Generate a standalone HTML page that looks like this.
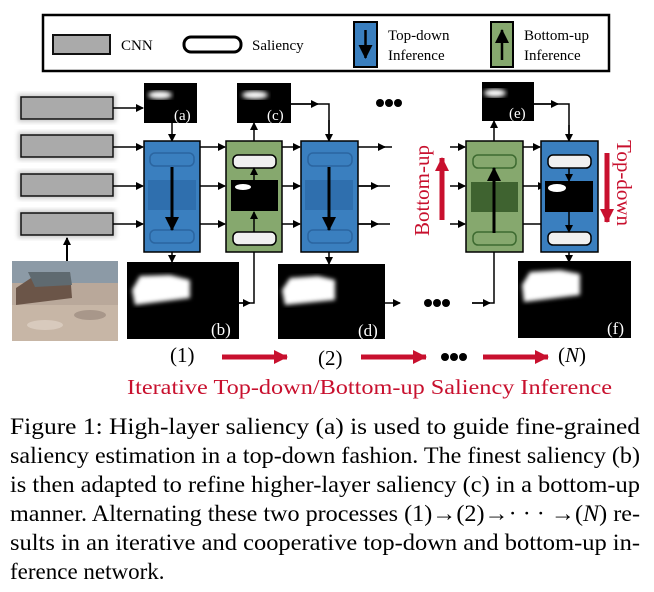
<!DOCTYPE html>
<html><head><meta charset="utf-8"><style>
html,body{margin:0;padding:0;background:#fff;width:654px;height:592px;overflow:hidden}
svg{display:block}
text{font-family:"Liberation Serif",serif}
</style></head><body>
<svg width="654" height="592" viewBox="0 0 654 592" xmlns="http://www.w3.org/2000/svg">
<defs>
<marker id="ar" markerWidth="8" markerHeight="8" refX="7" refY="4" orient="auto" markerUnits="userSpaceOnUse"><path d="M0,0 L8,4 L0,8 z" fill="#000"/></marker>
<marker id="rr" markerWidth="14" markerHeight="14" refX="13" refY="7" orient="auto" markerUnits="userSpaceOnUse"><path d="M0,0 L14,7 L0,14 z" fill="#c8102e"/></marker>
<marker id="bk" markerWidth="14" markerHeight="14" refX="13" refY="7" orient="auto" markerUnits="userSpaceOnUse"><path d="M0,0 L14,7 L0,14 z" fill="#000"/></marker>
<filter id="sh"><feGaussianBlur stdDeviation="2"/></filter>
<filter id="bl"><feGaussianBlur stdDeviation="2.5"/></filter>
</defs>

<rect x="43" y="15" width="566" height="56" fill="#fff" stroke="#000" stroke-width="2.5"/>
<rect x="53" y="35" width="57" height="19" fill="#aaa" stroke="#111" stroke-width="2"/>
<text x="121" y="50" font-size="15">CNN</text>
<rect x="184" y="37" width="57" height="15" rx="7" fill="#fff" stroke="#000" stroke-width="3"/>
<text x="252" y="50" font-size="15">Saliency</text>
<rect x="354" y="22" width="23" height="45" fill="#3a7fbf" stroke="#000" stroke-width="2"/>
<line x1="365.5" y1="30" x2="365.5" y2="58" stroke="#000" stroke-width="2.5" marker-end="url(#bk)"/>
<text x="388" y="40" font-size="15">Top-down</text>
<text x="388" y="60" font-size="15">Inference</text>
<rect x="491" y="22" width="22" height="45" fill="#86a86e" stroke="#000" stroke-width="2"/>
<line x1="502" y1="60" x2="502" y2="30" stroke="#000" stroke-width="2.5" marker-end="url(#bk)"/>
<text x="524" y="40" font-size="15">Bottom-up</text>
<text x="524" y="60" font-size="15">Inference</text>

<g>
<rect x="18" y="94" width="98" height="28" fill="#ccc" filter="url(#sh)"/>
<rect x="18" y="132" width="98" height="28" fill="#ccc" filter="url(#sh)"/>
<rect x="18" y="171" width="98" height="28" fill="#ccc" filter="url(#sh)"/>
<rect x="18" y="210" width="98" height="28" fill="#ccc" filter="url(#sh)"/>
<rect x="21" y="97" width="92" height="22" fill="#aaa" stroke="#111" stroke-width="1.5"/>
<rect x="21" y="135" width="92" height="22" fill="#aaa" stroke="#111" stroke-width="1.5"/>
<rect x="21" y="174" width="92" height="22" fill="#aaa" stroke="#111" stroke-width="1.5"/>
<rect x="21" y="213" width="92" height="22" fill="#aaa" stroke="#111" stroke-width="1.5"/>
</g>
<rect x="12" y="261" width="106" height="80" fill="#b9a89a"/>
<rect x="12" y="261" width="106" height="22" fill="#8c9aa6"/>
<polygon points="16,288 40,272 70,272 72,298 16,305" fill="#6b5548"/>
<polygon points="28,272 70,272 72,285 35,287" fill="#5f6a70"/>
<rect x="12" y="305" width="106" height="36" fill="#c7b6a6"/>
<ellipse cx="45" cy="325" rx="18" ry="5" fill="#d8cabd"/>
<ellipse cx="90" cy="315" rx="16" ry="5" fill="#a8978a"/>
<line x1="67" y1="261" x2="67" y2="238" stroke="#000" stroke-width="2" marker-end="url(#ar)"/>

<g stroke="#000" stroke-width="1.5" fill="none">
<line x1="113" y1="108" x2="143" y2="108" marker-end="url(#ar)"/>
<line x1="113" y1="147" x2="143" y2="147" marker-end="url(#ar)"/>
<line x1="113" y1="186" x2="143" y2="186" marker-end="url(#ar)"/>
<line x1="113" y1="224" x2="143" y2="224" marker-end="url(#ar)"/>
<line x1="172" y1="123" x2="172" y2="141" marker-end="url(#ar)"/>
<line x1="200" y1="147" x2="225" y2="147" marker-end="url(#ar)"/>
<line x1="200" y1="186" x2="225" y2="186" marker-end="url(#ar)"/>
<line x1="200" y1="224" x2="225" y2="224" marker-end="url(#ar)"/>
<line x1="282" y1="147" x2="300" y2="147" marker-end="url(#ar)"/>
<line x1="282" y1="186" x2="300" y2="186" marker-end="url(#ar)"/>
<line x1="282" y1="224" x2="300" y2="224" marker-end="url(#ar)"/>
<line x1="358" y1="147" x2="385" y2="147" marker-end="url(#ar)"/>
<line x1="358" y1="186" x2="390" y2="186"/><line x1="358" y1="186" x2="378" y2="186" marker-end="url(#ar)"/>
<line x1="358" y1="224" x2="390" y2="224"/><line x1="358" y1="224" x2="378" y2="224" marker-end="url(#ar)"/>
<line x1="172" y1="252" x2="172" y2="262" marker-end="url(#ar)"/>
<line x1="329" y1="252" x2="329" y2="264" marker-end="url(#ar)"/>
<polyline points="239,303 254,303 254,252"/>
<line x1="239" y1="303" x2="250" y2="303" marker-end="url(#ar)"/>
<line x1="254" y1="141" x2="254" y2="123" marker-end="url(#ar)"/>
<polyline points="291,104 329,104 329,141"/>
<line x1="291" y1="104" x2="318" y2="104" marker-end="url(#ar)"/>
<line x1="329" y1="120" x2="329" y2="141" marker-end="url(#ar)"/>
<line x1="385" y1="303" x2="400" y2="303" marker-end="url(#ar)"/>
</g>

<g>
<rect x="144" y="83" width="53" height="40" fill="#000"/>
<ellipse cx="160" cy="95" rx="12" ry="4" fill="#fff" filter="url(#bl)"/>
<text x="174" y="120" font-size="15" fill="#fff">(a)</text>
<rect x="237" y="83" width="54" height="40" fill="#000"/>
<ellipse cx="255" cy="95" rx="13" ry="4" fill="#fff" filter="url(#bl)"/>
<text x="267" y="120" font-size="15" fill="#fff">(c)</text>
<rect x="482" y="82" width="52" height="39" fill="#000"/>
<ellipse cx="495" cy="93" rx="11" ry="4" fill="#fff" filter="url(#bl)"/>
<text x="509" y="118" font-size="15" fill="#fff">(e)</text>
<rect x="127" y="262" width="112" height="77" fill="#000"/>
<polygon points="132,290 140,276 170,275 190,280 190,298 135,305" fill="#fff" filter="url(#sh)"/>
<text x="211" y="335" font-size="17" fill="#fff">(b)</text>
<rect x="278" y="264" width="107" height="75" fill="#000"/>
<polygon points="282,290 290,278 318,276 335,280 335,300 285,305" fill="#fff" filter="url(#sh)"/>
<text x="358" y="336" font-size="17" fill="#fff">(d)</text>
<rect x="518" y="261" width="113" height="77" fill="#000"/>
<polygon points="522,285 530,272 560,270 580,274 580,295 524,302" fill="#fff" filter="url(#sh)"/>
<text x="607" y="334" font-size="17" fill="#fff">(f)</text>
</g>

<g>
<rect x="144" y="141" width="56" height="111" fill="#3a7fbf" stroke="#000" stroke-width="1.5"/>
<rect x="150" y="153" width="44" height="13" rx="5" fill="none" stroke="#2b65a0" stroke-width="1.5"/>
<rect x="150" y="230" width="44" height="13" rx="5" fill="none" stroke="#2b65a0" stroke-width="1.5"/>
<rect x="148" y="180" width="48" height="30" fill="#2f6fae"/>
<line x1="172" y1="167" x2="172" y2="230" stroke="#000" stroke-width="3" marker-end="url(#bk)"/>
</g>
<g>
<rect x="226" y="141" width="56" height="111" fill="#86a86e" stroke="#000" stroke-width="1.5"/>
<rect x="233" y="155" width="43" height="13" rx="5" fill="#f0f0f0" stroke="#000" stroke-width="1.5"/>
<rect x="233" y="232" width="43" height="13" rx="5" fill="#f0f0f0" stroke="#000" stroke-width="1.5"/>
<rect x="231" y="180" width="47" height="31" fill="#000"/>
<ellipse cx="243" cy="187" rx="8" ry="3" fill="#fff"/>
<g stroke="#000" stroke-width="1.5"><line x1="254" y1="232" x2="254" y2="212" marker-end="url(#ar)"/><line x1="254" y1="180" x2="254" y2="168" marker-end="url(#ar)"/></g>
</g>
<g>
<rect x="301" y="141" width="57" height="111" fill="#3a7fbf" stroke="#000" stroke-width="1.5"/>
<rect x="308" y="153" width="44" height="13" rx="5" fill="none" stroke="#2b65a0" stroke-width="1.5"/>
<rect x="308" y="230" width="44" height="13" rx="5" fill="none" stroke="#2b65a0" stroke-width="1.5"/>
<rect x="305" y="180" width="48" height="30" fill="#2f6fae"/>
<line x1="329" y1="167" x2="329" y2="230" stroke="#000" stroke-width="3" marker-end="url(#bk)"/>
</g>

<g fill="#000">
<circle cx="380" cy="103" r="4"/><circle cx="389" cy="103" r="4"/><circle cx="398" cy="103" r="4"/>
<circle cx="428" cy="303" r="4"/><circle cx="437" cy="303" r="4"/><circle cx="446" cy="303" r="4"/>
<circle cx="445" cy="357" r="4"/><circle cx="454" cy="357" r="4"/><circle cx="463" cy="357" r="4"/>
</g>

<g stroke="#000" stroke-width="1.5" fill="none">
<line x1="380" y1="147" x2="392" y2="147"/>
<line x1="450" y1="147" x2="465" y2="147" marker-end="url(#ar)"/>
<line x1="450" y1="186" x2="465" y2="186" marker-end="url(#ar)"/>
<line x1="450" y1="224" x2="465" y2="224" marker-end="url(#ar)"/>
<line x1="523" y1="147" x2="540" y2="147" marker-end="url(#ar)"/>
<line x1="523" y1="186" x2="545" y2="186" marker-end="url(#ar)"/>
<line x1="523" y1="224" x2="568" y2="224"/>
<polyline points="472,303 494,303 494,252"/>
<line x1="472" y1="303" x2="490" y2="303" marker-end="url(#ar)"/>
<line x1="494" y1="141" x2="494" y2="121" marker-end="url(#ar)"/>
<polyline points="534,104 569,104 569,141"/>
<line x1="534" y1="104" x2="558" y2="104" marker-end="url(#ar)"/>
<line x1="569" y1="125" x2="569" y2="141" marker-end="url(#ar)"/>
<line x1="569" y1="252" x2="569" y2="262" marker-end="url(#ar)"/>
</g>
<g>
<rect x="466" y="141" width="57" height="111" fill="#86a86e" stroke="#000" stroke-width="1.5"/>
<rect x="473" y="155" width="43" height="13" rx="5" fill="none" stroke="#3d6a30" stroke-width="1.5"/>
<rect x="473" y="232" width="43" height="13" rx="5" fill="none" stroke="#3d6a30" stroke-width="1.5"/>
<rect x="471" y="182" width="47" height="30" fill="#3f6330"/>
<line x1="494" y1="233" x2="494" y2="168" stroke="#000" stroke-width="3" marker-end="url(#bk)"/>
</g>
<g>
<rect x="541" y="141" width="57" height="111" fill="#3a7fbf" stroke="#000" stroke-width="1.5"/>
<rect x="548" y="155" width="43" height="13" rx="5" fill="#f0f0f0" stroke="#000" stroke-width="1.5"/>
<rect x="548" y="232" width="43" height="13" rx="5" fill="#f0f0f0" stroke="#000" stroke-width="1.5"/>
<rect x="545" y="181" width="48" height="31" fill="#000"/>
<ellipse cx="557" cy="188" rx="9" ry="4" fill="#fff"/>
<g stroke="#000" stroke-width="1.5"><line x1="569" y1="168" x2="569" y2="181" marker-end="url(#ar)"/><line x1="569" y1="212" x2="569" y2="232" marker-end="url(#ar)"/></g>
</g>

<text transform="translate(429,236) rotate(-90)" font-size="21" fill="#c8102e">Bottom-up</text>
<line x1="442" y1="220" x2="442" y2="158" stroke="#c8102e" stroke-width="5" marker-end="url(#rr)"/>
<text transform="translate(617,140) rotate(90)" font-size="21" fill="#c8102e">Top-down</text>
<line x1="607" y1="153" x2="607" y2="222" stroke="#c8102e" stroke-width="5" marker-end="url(#rr)"/>

<text x="170" y="362" font-size="21">(1)</text>
<line x1="222" y1="357" x2="287" y2="357" stroke="#c8102e" stroke-width="5" marker-end="url(#rr)"/>
<text x="318" y="365" font-size="21">(2)</text>
<line x1="361" y1="357" x2="426" y2="357" stroke="#c8102e" stroke-width="5" marker-end="url(#rr)"/>
<line x1="483" y1="357" x2="548" y2="357" stroke="#c8102e" stroke-width="5" marker-end="url(#rr)"/>
<text x="558" y="362" font-size="21">(<tspan font-style="italic">N</tspan>)</text>
<text x="127" y="394" font-size="21" fill="#c8102e" textLength="485" lengthAdjust="spacingAndGlyphs">Iterative Top-down/Bottom-up Saliency Inference</text>

<g font-size="23" fill="#000">
<text x="10" y="434" textLength="630" lengthAdjust="spacingAndGlyphs">Figure 1:  High-layer saliency (a) is used to guide fine-grained</text>
<text x="10" y="463" textLength="630" lengthAdjust="spacingAndGlyphs">saliency estimation in a top-down fashion. The finest saliency (b)</text>
<text x="10" y="492" textLength="630" lengthAdjust="spacingAndGlyphs">is then adapted to refine higher-layer saliency (c) in a bottom-up</text>
<text x="10" y="521" textLength="630" lengthAdjust="spacingAndGlyphs">manner. Alternating these two processes (1)→(2)→· · · →(<tspan font-style="italic">N</tspan>) re-</text>
<text x="10" y="550" textLength="630" lengthAdjust="spacingAndGlyphs">sults in an iterative and cooperative top-down and bottom-up in-</text>
<text x="10" y="579">ference network.</text>
</g>
</svg>
</body></html>
